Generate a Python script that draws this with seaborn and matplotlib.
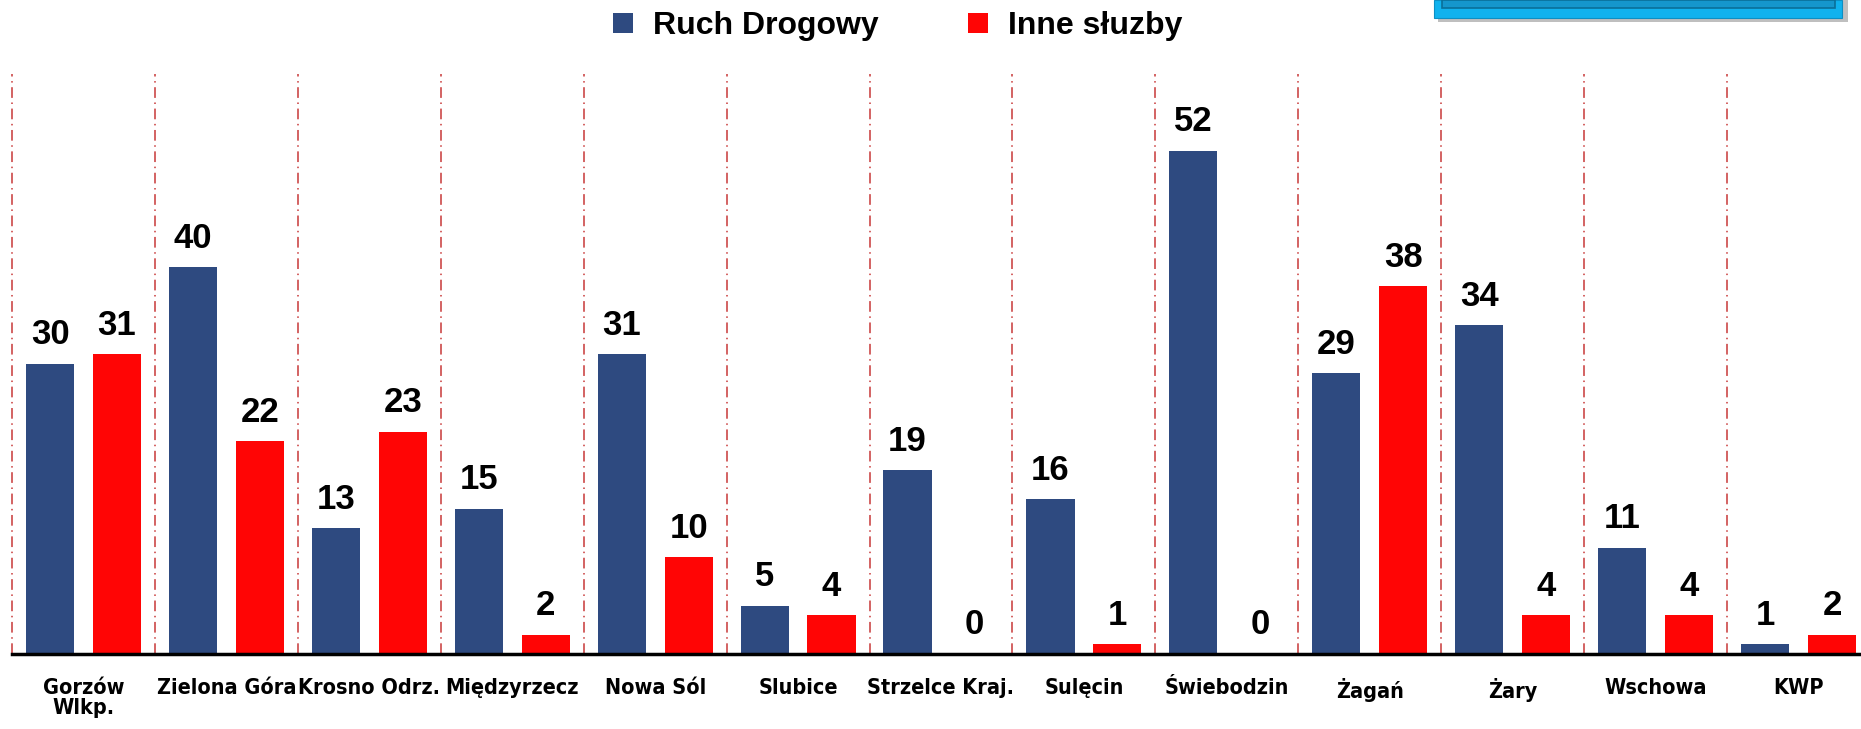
import pandas as pd
import matplotlib.pyplot as plt
import seaborn as sns
from matplotlib import font_manager
from matplotlib.patches import Rectangle

# data
komendy = ['Gorzów\nWlkp.', 'Zielona Góra', 'Krosno Odrz.', 'Międzyrzecz', 'Nowa Sól',
           'Slubice', 'Strzelce Kraj.', 'Sulęcin', 'Świebodzin', 'Żagań', 'Żary',
           'Wschowa', 'KWP']
ruch_drogowy = [30, 40, 13, 15, 31, 5, 19, 16, 52, 29, 34, 11, 1]
inne_sluzby = [31, 22, 23, 2, 10, 4, 0, 1, 0, 38, 4, 4, 2]
serie = ['Ruch Drogowy', 'Inne słuzby']
kolory = ['#2E4A80', '#FF0505']

df = pd.DataFrame({
    'komenda': komendy * 2,
    'seria': [serie[0]] * len(komendy) + [serie[1]] * len(komendy),
    'wartosc': ruch_drogowy + inne_sluzby,
})

sns.set_style('white')
plt.rcParams['font.family'] = ['Liberation Sans', 'DejaVu Sans']
plt.rcParams['text.color'] = 'black'
plt.rcParams['xtick.color'] = 'black'
plt.rcParams['xtick.labelcolor'] = 'black'

# condensed bold font for category labels, if there is one
cond = [f for f in font_manager.fontManager.ttflist
        if 'Condensed' in f.fname and 'Bold' in f.fname and 'Oblique' not in f.fname]
if cond:
    tick_font = font_manager.FontProperties(fname=cond[0].fname, size=15.5)
else:
    tick_font = font_manager.FontProperties(family='Liberation Sans', weight='bold', size=14)

W, H = 1861, 729
fig = plt.figure(figsize=(W / 100, H / 100), dpi=100)
ax = fig.add_axes([12 / W, 1 - 654 / H, 1858 / W, 580.4 / H])

sns.barplot(data=df, x='komenda', y='wartosc', hue='seria', palette=kolory,
            saturation=1, width=0.936, gap=0.28, linewidth=0, ax=ax)

for c in ax.containers:
    ax.bar_label(c, fmt='%d', padding=9, fontsize=25, fontweight='bold', color='black')

ax.set_ylim(0, 60)
ax.set_xlim(-0.5, len(komendy) - 0.5)
ax.set_yticks([])
ax.set_xlabel('')
ax.set_ylabel('')
for s in ['left', 'right', 'top']:
    ax.spines[s].set_visible(False)
ax.spines['bottom'].set_linewidth(2.5)
ax.spines['bottom'].set_color('black')

# separators between categories
bounds = [i - 0.5 for i in range(len(komendy))]
for b in bounds:
    ax.axvline(b, color='#c83838', lw=1.1, ls=(0, (7, 3, 1, 3)), clip_on=False, zorder=0)

ax.set_xticks(range(len(komendy)))
ax.set_xticklabels(komendy, fontproperties=tick_font, linespacing=1.05, color='black')
ax.tick_params(axis='x', which='major', length=0, pad=17)
ax.set_xticks(bounds + [len(komendy) - 0.5], minor=True)
ax.tick_params(axis='x', which='minor', direction='inout', length=12, width=2, color='black')

# legend
if ax.get_legend() is not None:
    ax.get_legend().remove()
handles, labels = ax.get_legend_handles_labels()
leg = fig.legend(handles, labels, loc='center', bbox_to_anchor=(898 / W, 1 - 26 / H),
                 ncol=2, frameon=False, prop={'weight': 'bold', 'size': 23},
                 handlelength=0.6, handleheight=0.6, handletextpad=0.65, columnspacing=2.8)
for t in leg.get_texts():
    t.set_color('black')

# top-right decorative box (cut off)
def px_rect(x0, y0, x1, y1, **kw):
    fig.patches.append(Rectangle((x0 / W, 1 - y1 / H), (x1 - x0) / W, (y1 - y0) / H,
                                 transform=fig.transFigure, figure=fig, **kw))

px_rect(1438, 0, 1848, 22, facecolor='#bfbfbf', edgecolor='none')
px_rect(1434, 0, 1842, 18, facecolor='#10b2ee', edgecolor='#0c8fc4', lw=0.8)
px_rect(1442, 0, 1835, 8, facecolor='#1596cc', edgecolor='#0a6f99', lw=1.2)

plt.savefig('out.png', dpi=100)
